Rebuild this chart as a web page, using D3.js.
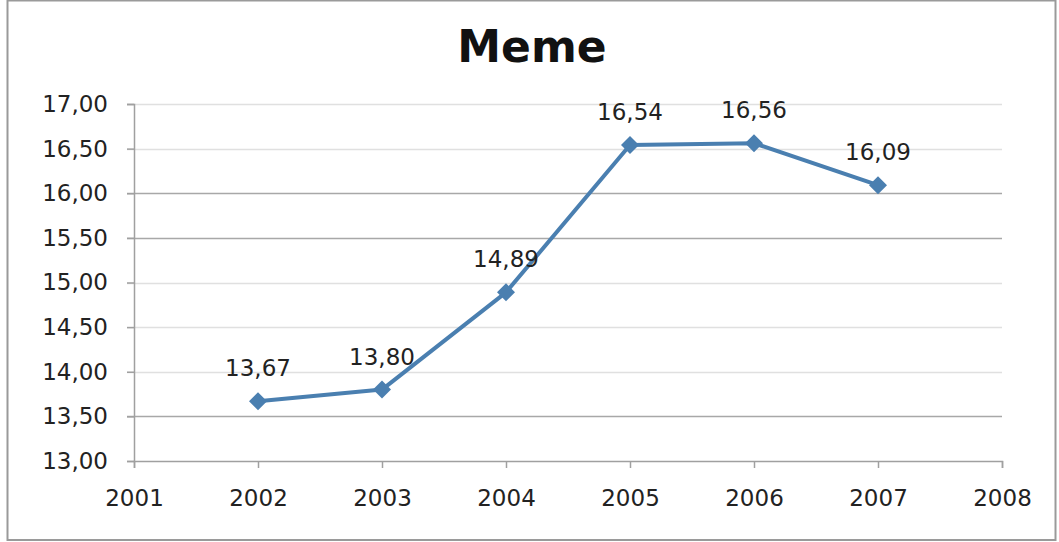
<!DOCTYPE html>
<html><head><meta charset="utf-8">
<script src="https://cdn.jsdelivr.net/npm/d3@7"></script>
<style>html,body{margin:0;padding:0;background:#fff;}svg{display:block;}</style>
</head><body>
<script>
const title = "Meme";
const years = [2002, 2003, 2004, 2005, 2006, 2007];
const values = [13.67, 13.80, 14.89, 16.54, 16.56, 16.09];
const yTicks = [13.0, 13.5, 14.0, 14.5, 15.0, 15.5, 16.0, 16.5, 17.0];
const xTicks = [2001, 2002, 2003, 2004, 2005, 2006, 2007, 2008];

const W = 1059, H = 542;
const svg = d3.select("body").append("svg").attr("width", W).attr("height", H);
svg.append("rect").attr("x", 7.5).attr("y", 0.5).attr("width", 1048).attr("height", 539.5)
  .attr("fill", "#fff").attr("stroke", "#9a9a9a").attr("stroke-width", 2);

const x = d3.scaleLinear().domain([2001, 2008]).range([134, 1002]);
const y = d3.scaleLinear().domain([13, 17]).range([461, 104]);
const fmt = v => v.toFixed(2).replace(".", ",");
const font = "DejaVu Sans";
const darkGrid = new Set([13.5, 15.5, 16.0]);

// gridlines
svg.append("g").selectAll("line").data(yTicks.filter(t => t > 13)).join("line")
  .attr("x1", 127).attr("x2", 1002)
  .attr("y1", d => Math.round(y(d)) + 0.5).attr("y2", d => Math.round(y(d)) + 0.5)
  .attr("stroke", d => darkGrid.has(d) ? "#a8a8a8" : "#e0e0e0").attr("stroke-width", 1.5);

// axes
const yAxis = d3.axisLeft(y).tickValues(yTicks).tickSize(7).tickPadding(19).tickFormat(fmt);
const gy = svg.append("g").attr("transform", "translate(134,0)").call(yAxis);
gy.select(".domain").attr("stroke", "#a0a0a0").attr("stroke-width", 1.5);
gy.selectAll(".tick line").attr("stroke", "#a0a0a0").attr("stroke-width", 1.5);
gy.selectAll("text").attr("font-family", font).attr("font-size", 23).attr("fill", "#222");

const xAxis = d3.axisBottom(x).tickValues(xTicks).tickSize(7).tickPadding(22).tickFormat(d3.format("d"));
const gx = svg.append("g").attr("transform", "translate(0,461)").call(xAxis);
gx.select(".domain").attr("stroke", "#a0a0a0").attr("stroke-width", 1.5);
gx.selectAll(".tick line").attr("stroke", "#a0a0a0").attr("stroke-width", 1.5);
gx.selectAll("text").attr("font-family", font).attr("font-size", 23).attr("fill", "#222");

// title
svg.append("text").attr("x", 532).attr("y", 62).attr("text-anchor", "middle")
  .attr("font-family", font).attr("font-weight", "bold").attr("font-size", 44).attr("fill", "#111").text(title);

const data = years.map((yr, i) => ({yr, v: values[i]}));
const line = d3.line().x(d => x(d.yr)).y(d => y(d.v));
svg.append("path").datum(data).attr("d", line).attr("fill", "none")
  .attr("stroke", "#4a7fb0").attr("stroke-width", 4).attr("stroke-linejoin", "round");

svg.append("g").selectAll("path").data(data).join("path")
  .attr("transform", d => `translate(${x(d.yr)},${y(d.v)})`)
  .attr("d", "M0,-9L9,0L0,9L-9,0Z").attr("fill", "#4a7fb0");

svg.append("g").selectAll("text").data(data).join("text")
  .attr("x", d => x(d.yr)).attr("y", d => y(d.v) - 25)
  .attr("text-anchor", "middle").attr("font-family", font).attr("font-size", 23).attr("fill", "#222")
  .text(d => fmt(d.v));
</script>
</body></html>
